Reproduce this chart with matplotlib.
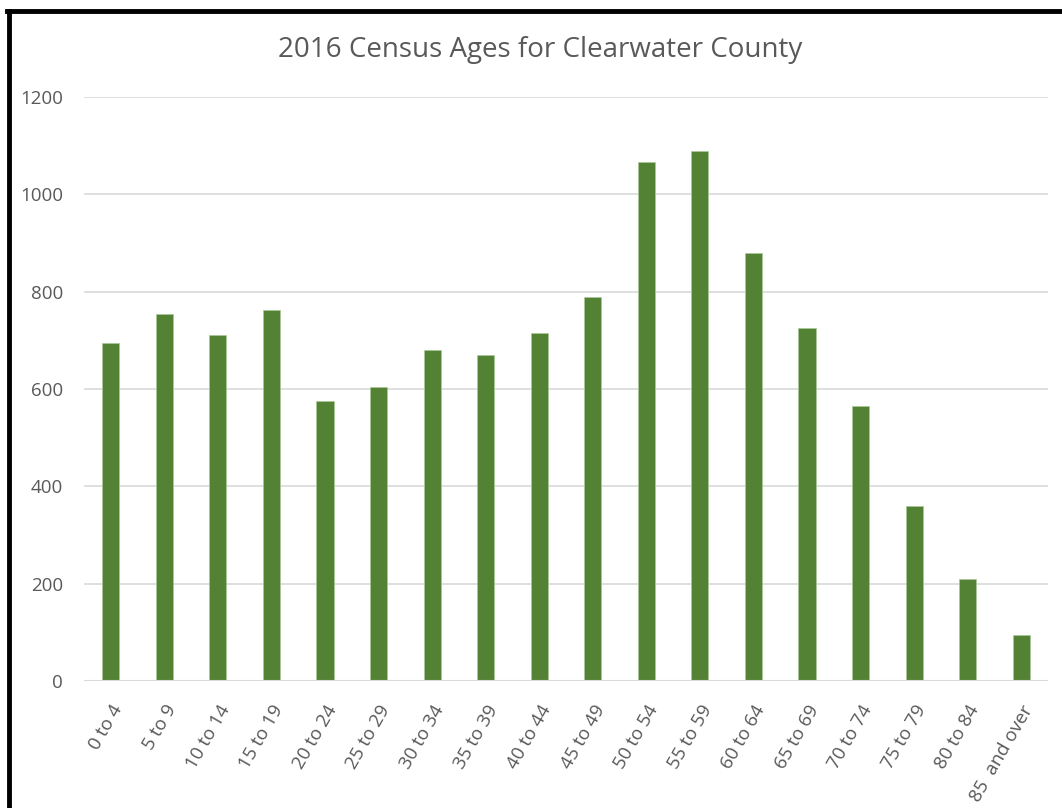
import numpy as np
import matplotlib
matplotlib.use("Agg")
from matplotlib import pyplot as plt
from matplotlib.lines import Line2D

# age groups and counts
age_groups = ["0 to 4", "5 to 9", "10 to 14", "15 to 19", "20 to 24", "25 to 29",
              "30 to 34", "35 to 39", "40 to 44", "45 to 49", "50 to 54", "55 to 59",
              "60 to 64", "65 to 69", "70 to 74", "75 to 79", "80 to 84", "85  and over"]
counts = [694, 754, 711, 762, 575, 604, 680, 670, 715, 789, 1066, 1089,
          879, 725, 565, 360, 210, 95]
y_ticks = [0, 200, 400, 600, 800, 1000, 1200]

plt.rcParams['font.family'] = ['Open Sans', 'DejaVu Sans']
text_col = "#595959"

fig = plt.figure(figsize=(10.62, 8.08), dpi=100)
ax = fig.add_axes([84 / 1062, 1 - 681 / 808, (1048 - 84) / 1062, (681 - 97) / 808])

x = np.arange(len(age_groups))
ax.bar(x, counts, width=0.32, color="#548235", edgecolor="#a9c99a", linewidth=0.5, zorder=3)

ax.set_xlim(-0.5, len(age_groups) - 0.5)
ax.set_ylim(0, 1200)
ax.set_yticks(y_ticks)
ax.grid(axis="y", color="#d9d9d9", linewidth=1.2, zorder=0)
ax.axhline(0, color="#d9d9d9", linewidth=1.5, zorder=4)
for s in ax.spines.values():
    s.set_visible(False)

ax.set_xticks(x)
ax.set_xticklabels(age_groups, rotation=60, ha="right", rotation_mode="anchor")
ax.tick_params(axis="x", length=0, pad=15, labelsize=13.5, labelcolor=text_col)
ax.tick_params(axis="y", length=0, pad=15, labelsize=13.5, labelcolor=text_col)

fig.text(0.509, 1 - 50 / 808, "2016 Census Ages for Clearwater County",
         ha="center", va="center", fontsize=20, color=text_col)

# black frame on top and left edges
fig.add_artist(Line2D([9 / 1062, 9 / 1062], [0, 1 - 11 / 808], color="black", linewidth=3.5,
                      transform=fig.transFigure))
fig.add_artist(Line2D([7 / 1062, 1], [1 - 11 / 808, 1 - 11 / 808], color="black", linewidth=3.5,
                      transform=fig.transFigure))

fig.savefig("out.png", dpi=100)
